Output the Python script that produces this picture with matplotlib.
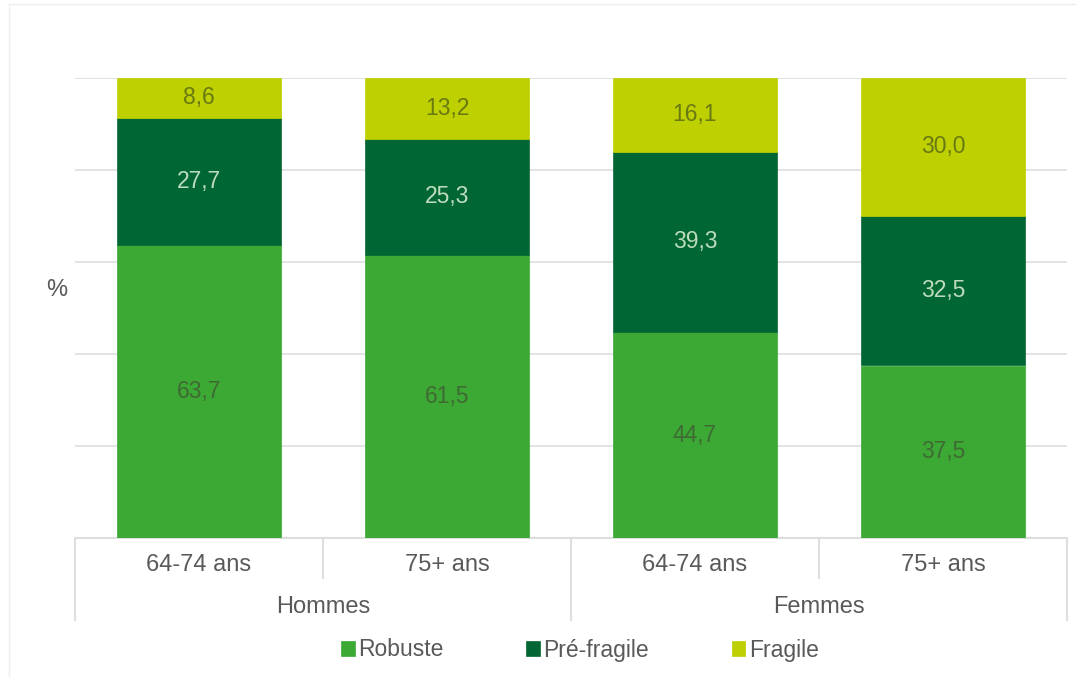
import matplotlib.pyplot as plt
from matplotlib.lines import Line2D

plt.rcParams['font.family'] = ['Liberation Sans', 'DejaVu Sans']

# groups and sub-categories
groups = ["Hommes", "Femmes"]
ages = ["64-74 ans", "75+ ans", "64-74 ans", "75+ ans"]

# stacked shares (%)
series = ["Robuste", "Pré-fragile", "Fragile"]
robuste = [63.7, 61.5, 44.7, 37.5]
pre_fragile = [27.7, 25.3, 39.3, 32.5]
fragile = [8.6, 13.2, 16.1, 30.0]

colors = ["#3ca935", "#006633", "#bed000"]
label_colors = ["#3f6a33", "#bcdcbc", "#6a7a12"]
text_gray = "#595959"
grid_gray = "#dedede"

fig = plt.figure(figsize=(10.84, 6.83), dpi=100)
ax = fig.add_axes([75 / 1084, 1 - 538 / 683, (1067 - 75) / 1084, (538 - 78) / 683])

# faint frame edges (top and left) of the chart area
for xs, ys in [([9, 1075], [4, 4]), ([9, 9], [4, 676])]:
    fig.add_artist(Line2D([v / 1084 for v in xs], [1 - v / 683 for v in ys],
                          transform=fig.transFigure, color="#efefef", linewidth=1))

x = range(len(ages))
bottom = [0.0] * len(ages)
for vals, col, lcol, name in zip([robuste, pre_fragile, fragile], colors, label_colors, series):
    bars = ax.bar(x, vals, bottom=bottom, width=0.665, color=col, label=name,
                  edgecolor=col, linewidth=0.5, zorder=3)
    for b, v in zip(bars, vals):
        ax.text(b.get_x() + b.get_width() / 2, b.get_y() + b.get_height() / 2,
                f"{v:.1f}".replace(".", ","), ha="center", va="center",
                fontsize=16.5, color=lcol, zorder=4)
    bottom = [b + v for b, v in zip(bottom, vals)]

ax.set_xlim(-0.5, len(ages) - 0.5)
ax.set_ylim(0, 100)
ax.set_yticks([0, 20, 40, 60, 80, 100])
ax.set_yticklabels([])
ax.tick_params(axis="both", length=0)
ax.set_xticks([])
ax.yaxis.grid(True, color=grid_gray, linewidth=1.2, zorder=0)
for s in ax.spines.values():
    s.set_visible(False)

ax.text(-18 / 992, 0.54, "%", transform=ax.transAxes, fontsize=17, color=text_gray,
        ha="center", va="center")

# two-level category axis drawn below the plot
tr = ax.get_xaxis_transform()
line_kw = dict(color=grid_gray, linewidth=1.5, transform=tr, clip_on=False)
ax.add_line(Line2D([-0.5, 3.5], [0, 0], **line_kw))
y_sub = -40 / 460
y_grp = -82 / 460
for i in [-0.5, 1.5, 3.5]:
    ax.add_line(Line2D([i, i], [0, y_grp], **line_kw))
for i in [0.5, 2.5]:
    ax.add_line(Line2D([i, i], [0, y_sub], **line_kw))
for i, lab in enumerate(ages):
    ax.text(i, -27 / 460, lab, transform=tr, ha="center", va="center",
            fontsize=17, color=text_gray)
for j, g in enumerate(groups):
    ax.text(2 * j + 0.5, -69 / 460, g, transform=tr, ha="center", va="center",
            fontsize=17, color=text_gray)

leg = fig.legend(loc="center", bbox_to_anchor=(0.535, 1 - 650 / 683), ncol=3,
                 frameon=False, fontsize=16.5, handlelength=0.6, handleheight=0.6,
                 handletextpad=0.15, columnspacing=3.6)
for t in leg.get_texts():
    t.set_color(text_gray)

fig.savefig("out.png", dpi=100)
